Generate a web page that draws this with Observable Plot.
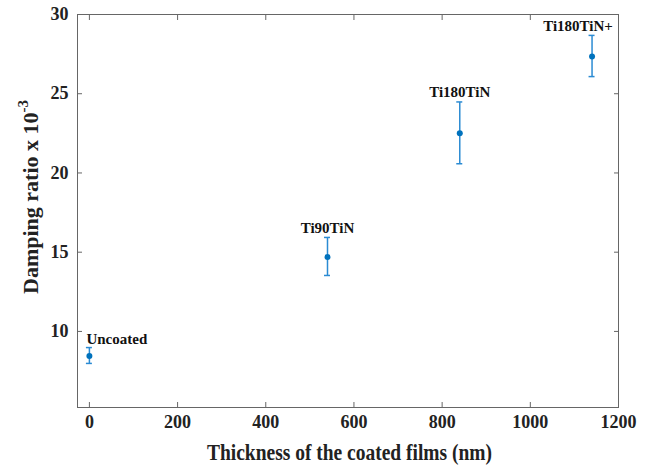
<!DOCTYPE html>
<html><head><meta charset="utf-8">
<script src="https://cdn.jsdelivr.net/npm/d3@7"></script>
<script src="https://cdn.jsdelivr.net/npm/@observablehq/plot@0.6"></script>
<style>
body{margin:0;background:#fff;overflow:hidden;}
svg{font-family:"Liberation Serif","Times New Roman",serif;}
</style></head>
<body><div id="chart"></div>
<script>
const samples = ["Uncoated", "Ti90TiN", "Ti180TiN", "Ti180TiN+"];
const thickness = [0, 540, 840, 1140];
const damping = [8.45, 14.7, 22.5, 27.35];
const errHalf = [0.5, 1.2, 1.95, 1.3];
const xTicks = [0, 200, 400, 600, 800, 1000, 1200];
const yTicks = [10, 15, 20, 25, 30];

const data = samples.map((s, i) => ({s, x: thickness[i], y: damping[i], lo: damping[i] - errHalf[i], hi: damping[i] + errHalf[i]}));
const blue = "#0072BD";
const errBlue = "#2b8bd3";
const font = {fontFamily: "Liberation Serif", fontWeight: "bold"};

const plot = Plot.plot({
  width: 646, height: 465,
  marginLeft: 77, marginRight: 28, marginTop: 14, marginBottom: 58,
  style: {fontFamily: "Liberation Serif", background: "#fff", overflow: "visible"},
  x: {domain: [-27, 1200]},
  y: {domain: [5.2, 30]},
  marks: [
    Plot.frame({stroke: "#666", strokeWidth: 1}),
    Plot.axisX({ticks: xTicks, tickFormat: "d", tickSize: 0, tickPadding: 8, fontSize: 18, fontWeight: "bold", fill: "#222", label: null}),
    Plot.axisX({ticks: xTicks, tickSize: -5, text: null, label: null, stroke: "#666"}),
    Plot.axisX({anchor: "top", ticks: xTicks, tickSize: -5, text: null, label: null, stroke: "#666"}),
    Plot.axisY({ticks: yTicks, tickSize: 0, tickPadding: 9, fontSize: 18, fontWeight: "bold", fill: "#222", label: null}),
    Plot.axisY({ticks: yTicks, tickSize: -5, text: null, label: null, stroke: "#666"}),
    Plot.axisY({anchor: "right", ticks: yTicks, tickSize: -5, text: null, label: null, stroke: "#666"}),
    Plot.ruleX(data, {x: "x", y1: "lo", y2: "hi", stroke: errBlue, strokeWidth: 1.5}),
    Plot.dot(data, {x: "x", y: "y", r: 3, fill: blue, stroke: "none"}),
    Plot.text(data.filter(d => d.s === "Uncoated"), {x: "x", y: "hi", text: "s", dx: -3, dy: -9, textAnchor: "start", fontSize: 15, ...font, fill: "#111"}),
    Plot.text(data.filter(d => d.s === "Ti90TiN" || d.s === "Ti180TiN"), {x: "x", y: "hi", text: "s", dy: -10, textAnchor: "middle", fontSize: 15, ...font, fill: "#111"}),
    Plot.text(data.filter(d => d.s === "Ti180TiN+"), {x: "x", y: "hi", text: "s", dx: -14, dy: -10, textAnchor: "middle", fontSize: 15, ...font, fill: "#111"})
  ]
});

document.getElementById("chart").appendChild(plot);

// error bar caps positioned through the plot's scales
const svg = d3.select(plot);
const xs = plot.scale("x"), ys = plot.scale("y");
const caps = svg.append("g").attr("stroke", errBlue).attr("stroke-width", 1.5);
data.forEach(d => {
  [d.lo, d.hi].forEach(v => {
    caps.append("line")
      .attr("x1", xs.apply(d.x) - 3).attr("x2", xs.apply(d.x) + 3)
      .attr("y1", ys.apply(v)).attr("y2", ys.apply(v));
  });
});
svg.selectAll("circle").raise();

// axis titles
svg.append("text")
  .attr("x", 207).attr("y", 460)
  .attr("text-anchor", "start")
  .attr("textLength", 285).attr("lengthAdjust", "spacingAndGlyphs")
  .attr("font-size", 24).attr("font-weight", "bold").attr("fill", "#222")
  .text("Thickness of the coated films (nm)");
const yl = svg.append("text")
  .attr("transform", "translate(38,197) rotate(-90)")
  .attr("text-anchor", "middle")
  .attr("font-size", 22).attr("font-weight", "bold").attr("fill", "#222");
yl.append("tspan").text("Damping ratio x 10");
yl.append("tspan").attr("dy", -10).attr("font-size", 15).text("-3");
</script>
</body></html>
